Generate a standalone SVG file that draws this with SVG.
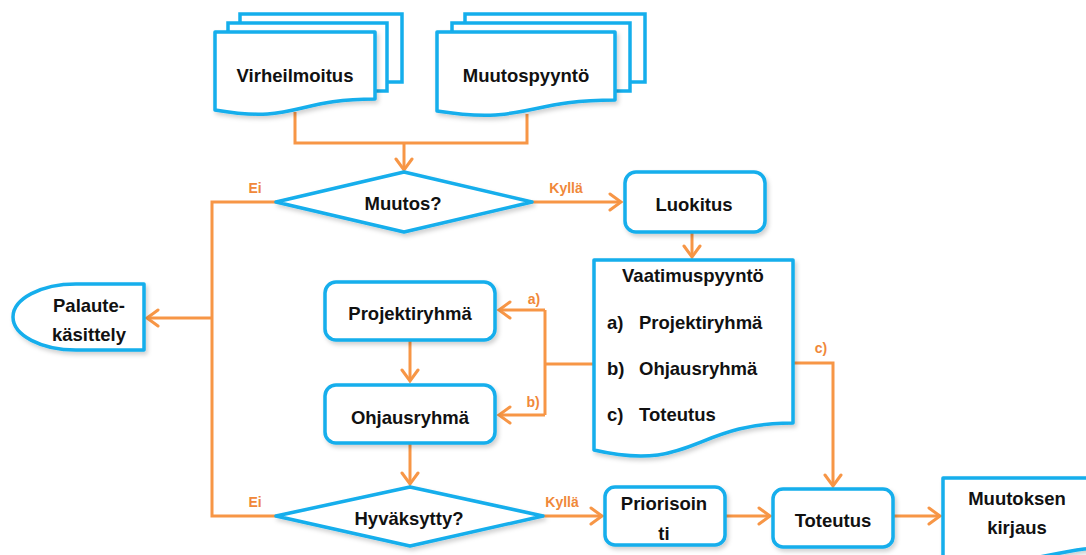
<svg xmlns="http://www.w3.org/2000/svg" width="1086" height="555" viewBox="0 0 1086 555">
  <style>
    .shape { fill: #ffffff; stroke: #14AEEC; stroke-width: 3.5; stroke-linejoin: round; filter: url(#shadow); }
    .page { fill: #ffffff; stroke: #14AEEC; stroke-width: 3.5; stroke-linejoin: miter; }
    .t { font-family: "Liberation Sans", Arial, sans-serif; font-weight: bold; font-size: 18.5px; fill: #111111; text-anchor: middle; }
    .tl { font-family: "Liberation Sans", Arial, sans-serif; font-weight: bold; font-size: 18.5px; fill: #111111; }
    .lbl { font-family: "Liberation Sans", Arial, sans-serif; font-weight: bold; font-size: 14px; fill: #F0883A; text-anchor: middle; }
    .c { fill: none; stroke: #F79646; stroke-width: 3; }
    .ca { fill: none; stroke: #F79646; stroke-width: 3; marker-end: url(#arr); }
  </style>
  <defs>
    <filter id="shadow" x="-10%" y="-10%" width="130%" height="140%">
      <feDropShadow dx="2" dy="3" stdDeviation="2" flood-color="#000000" flood-opacity="0.18"/>
    </filter>
    <marker id="arr" markerUnits="userSpaceOnUse" markerWidth="16" markerHeight="20" viewBox="-2 -10 16 20" refX="11" refY="0" orient="auto">
      <path d="M0,-8 L11,0 L0,8" fill="none" stroke="#F79646" stroke-width="3" stroke-linecap="round" stroke-linejoin="miter"/>
    </marker>
  </defs>

  <!-- connectors -->
  <g id="connectors">
    <path class="c" d="M295,112 V143 H527 V114"/>
    <path class="ca" d="M404,143 V170"/>
    <path class="c" d="M276,202 H212 V516 H276"/>
    <path class="ca" d="M212,318 H147"/>
    <path class="ca" d="M532,202 H621"/>
    <path class="ca" d="M692,233 V257"/>
    <path class="c" d="M594,364 H545"/>
    <path class="c" d="M545,310 V415"/>
    <path class="ca" d="M545,310 H499"/>
    <path class="ca" d="M545,415 H499"/>
    <path class="ca" d="M410,341 V381"/>
    <path class="ca" d="M410,444 V484"/>
    <path class="ca" d="M793,363 H833 V486"/>
    <path class="ca" d="M543,516 H602"/>
    <path class="ca" d="M725,516 H770"/>
    <path class="ca" d="M893,516 H940"/>
    <text class="lbl" x="255" y="193">Ei</text>
    <text class="lbl" x="566" y="193">Kyllä</text>
    <text class="lbl" x="255" y="507">Ei</text>
    <text class="lbl" x="562" y="507">Kyllä</text>
    <text class="lbl" x="534" y="304">a)</text>
    <text class="lbl" x="533" y="407">b)</text>
    <text class="lbl" x="821" y="353">c)</text>
  </g>

  <!-- stacked documents: error report -->
  <g id="virheilmoitus">
    <rect class="page" x="240" y="14" width="162" height="68"/>
    <rect class="page" x="228" y="23" width="159" height="68"/>
    <path class="shape" d="M215,32 H375 V99 C295,99 295,124 215,110 Z"/>
    <text class="t" x="295" y="82">Virheilmoitus</text>
  </g>

  <!-- stacked documents: change request -->
  <g id="muutospyynto">
    <rect class="page" x="465" y="14" width="180" height="68"/>
    <rect class="page" x="452" y="23" width="178" height="68"/>
    <path class="shape" d="M437,32 H615 V100 C526,100 526,125 437,111 Z"/>
    <text class="t" x="526" y="82">Muutospyyntö</text>
  </g>

  <g id="muutos">
    <path class="shape" d="M404,172 L532,202 L404,232 L276,202 Z"/>
    <text class="t" x="403" y="210">Muutos?</text>
  </g>

  <g id="luokitus">
    <rect class="shape" x="625" y="172" width="140" height="60" rx="11"/>
    <text class="t" x="694" y="211">Luokitus</text>
  </g>

  <g id="palautekasittely">
    <path class="shape" d="M144,284 H76 A63,33 0 0 0 76,350 H144 Z"/>
    <text class="t" x="89" y="312">Palaute-</text>
    <text class="t" x="89" y="341">käsittely</text>
  </g>

  <g id="vaatimuspyynto">
    <path class="shape" d="M594,260 H793 V423 C693,423 693,473 594,450 Z"/>
    <text class="t" x="693" y="282">Vaatimuspyyntö</text>
    <text class="tl" x="607" y="329">a)</text>
    <text class="tl" x="639" y="329">Projektiryhmä</text>
    <text class="tl" x="607" y="375">b)</text>
    <text class="tl" x="639" y="375">Ohjausryhmä</text>
    <text class="tl" x="607" y="421">c)</text>
    <text class="tl" x="639" y="421">Toteutus</text>
  </g>

  <g id="projektiryhma">
    <rect class="shape" x="325" y="282" width="170" height="58" rx="11"/>
    <text class="t" x="410" y="320">Projektiryhmä</text>
  </g>

  <g id="ohjausryhma">
    <rect class="shape" x="325" y="385" width="170" height="58" rx="11"/>
    <text class="t" x="410" y="424">Ohjausryhmä</text>
  </g>

  <g id="hyvaksytty">
    <path class="shape" d="M410,487 L543,516 L410,546 L276,516 Z"/>
    <text class="t" x="409" y="525">Hyväksytty?</text>
  </g>

  <g id="priorisointi">
    <rect class="shape" x="605" y="487" width="120" height="58" rx="10"/>
    <text class="t" x="664" y="510">Priorisoin</text>
    <text class="t" x="664" y="540">ti</text>
  </g>

  <g id="toteutus">
    <rect class="shape" x="773" y="489" width="120" height="58" rx="10"/>
    <text class="t" x="833" y="527">Toteutus</text>
  </g>

  <g id="muutoksen-kirjaus">
    <path class="shape" d="M943,478 H1135 V546 C1039,546 1039,572 943,558 Z"/>
    <text class="t" x="1017" y="505">Muutoksen</text>
    <text class="t" x="1017" y="534">kirjaus</text>
  </g>
</svg>
